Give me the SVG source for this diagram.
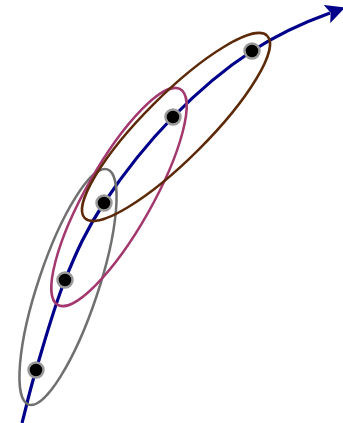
<svg xmlns="http://www.w3.org/2000/svg" width="343" height="423" viewBox="0 0 343 423">
<style>
.ell{fill:none;stroke-width:2.5}
.pt{fill:#000;stroke:#9a9a9a;stroke-width:2.5}
</style>
<defs>
<marker id="arr" markerWidth="6" markerHeight="6" refX="1" refY="3" orient="auto" markerUnits="strokeWidth">
<path d="M0,0 L6,3 L0,6 L1.2,3 Z" fill="#00008b"/>
</marker>
</defs>
<rect width="343" height="423" fill="#fff"/>
<g id="connectors">
<path d="M22,423 C26.7,405.3 28.8,393.8 36,370 C43.2,346.2 53.7,307.8 65,280 C76.3,252.2 86,230.2 104,203 C122,175.8 148.3,142.3 173,117 C197.7,91.7 225,68.5 252,51 C279,33.5 305,22 330,13" fill="none" stroke="#00008b" stroke-width="3.2" marker-end="url(#arr)"/>
</g>
<g id="ellipse-gray"><ellipse class="ell" cx="68" cy="287" rx="124" ry="30" transform="rotate(-71.5 68 287)" stroke="#707070"/></g>
<g id="ellipse-magenta"><ellipse class="ell" cx="119" cy="197" rx="124" ry="33" transform="rotate(-60.4 119 197)" stroke="#a3386e"/></g>
<g id="ellipse-brown"><ellipse class="ell" cx="176" cy="127" rx="129" ry="32" transform="rotate(-45 176 127)" stroke="#5c2a08"/></g>
<g id="p1"><circle class="pt" cx="36" cy="370" r="7.5"/></g>
<g id="p2"><circle class="pt" cx="65" cy="280" r="7.5"/></g>
<g id="p3"><circle class="pt" cx="104" cy="203" r="7.5"/></g>
<g id="p4"><circle class="pt" cx="173" cy="117" r="7.5"/></g>
<g id="p5"><circle class="pt" cx="252" cy="51" r="7.5"/></g>
</svg>
